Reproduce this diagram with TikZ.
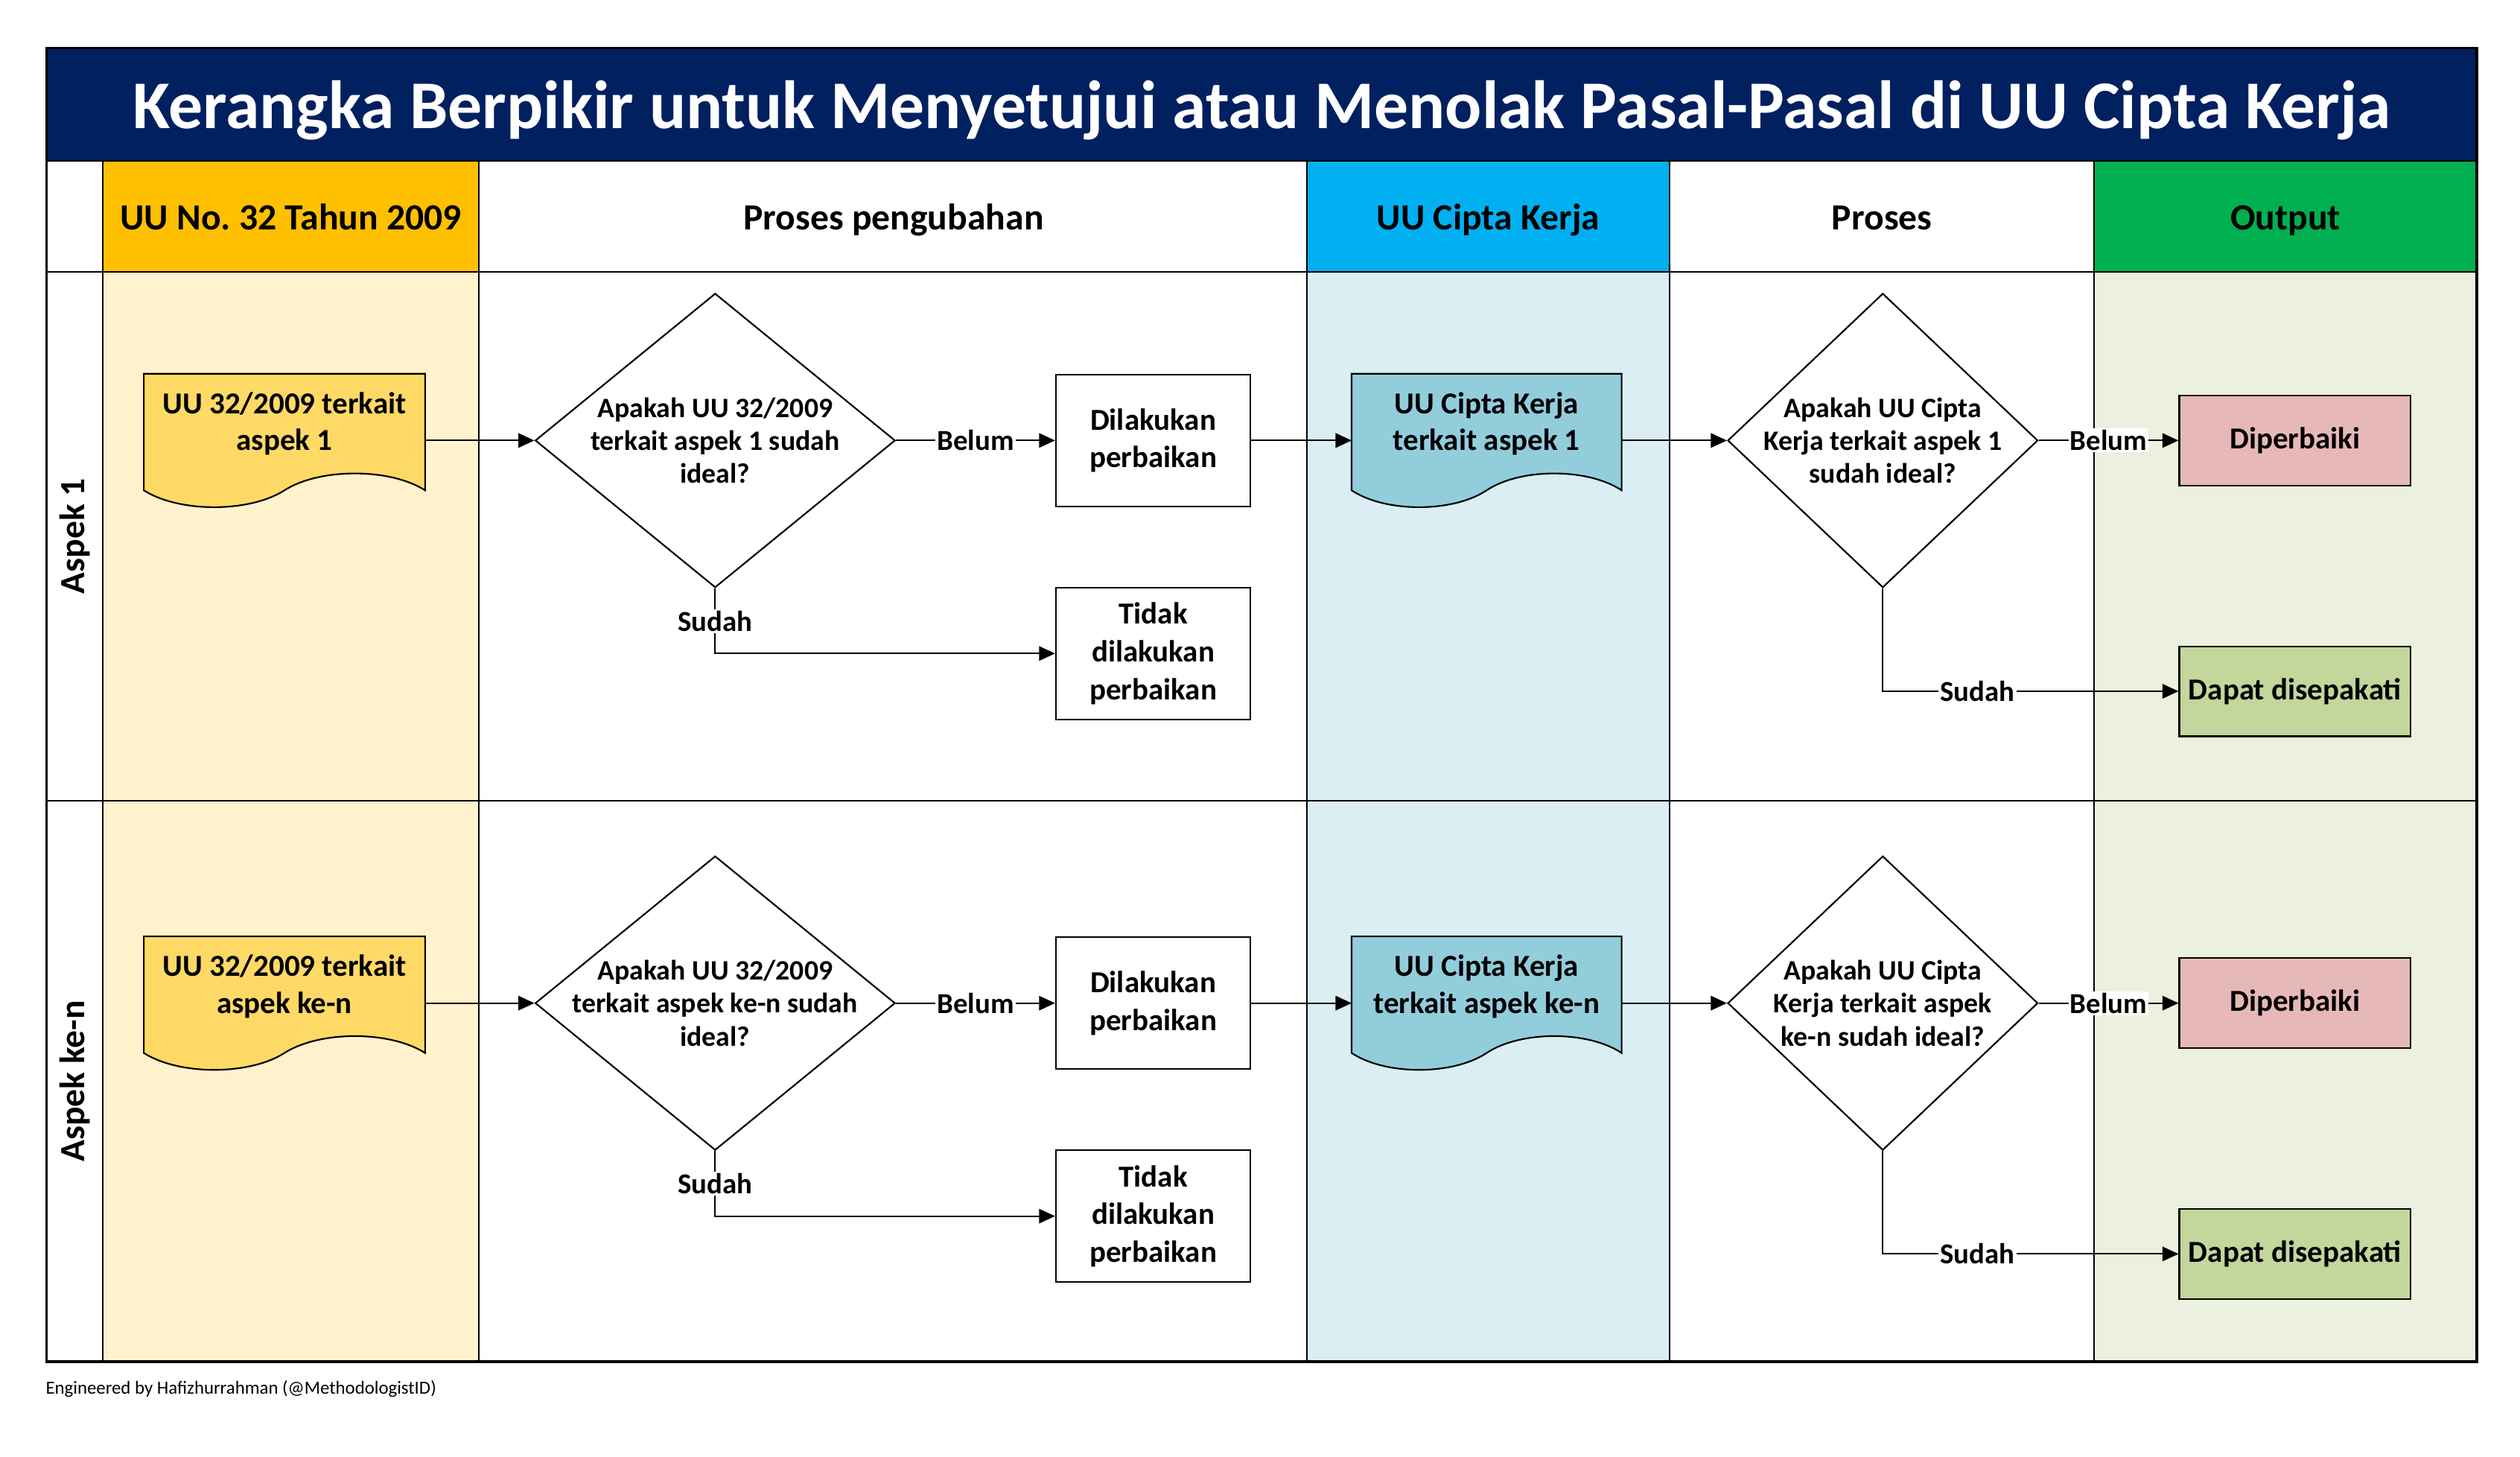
\documentclass[tikz,border=0pt]{standalone}
\usepackage{fontspec}
\setmainfont{Carlito}
\usetikzlibrary{shapes.geometric,arrows.meta,calc}

\definecolor{titlenavy}{HTML}{002060}
\definecolor{uuhead}{HTML}{FFC000}
\definecolor{uulane}{HTML}{FFF2CC}
\definecolor{uudoc}{HTML}{FFD966}
\definecolor{ckhead}{HTML}{00B0F0}
\definecolor{cklane}{HTML}{DAEEF3}
\definecolor{ckdoc}{HTML}{92CDDC}
\definecolor{outhead}{HTML}{00B050}
\definecolor{outlane}{HTML}{EBF1DE}
\definecolor{fixfill}{HTML}{E6B9B8}
\definecolor{okfill}{HTML}{C3D69B}

\tikzset{every picture/.style={line width=1pt}}
\tikzset{
  titletext/.style={text=white, anchor=base, font=\fontsize{42.5}{50}\selectfont\bfseries},
  headtext/.style={anchor=base, font=\fontsize{23}{27}\selectfont\bfseries},
  lanetext/.style={rotate=90, font=\fontsize{22}{26}\selectfont\bfseries},
  docshape/.style={minimum height=82pt, inner sep=0pt},
  doctext/.style={align=center, inner sep=0pt, font=\fontsize{19}{23}\selectfont\bfseries},
  procbox/.style={draw, fill=white, minimum width=121pt, minimum height=82pt, inner sep=0pt,
    align=center, font=\fontsize{19}{23.5}\selectfont\bfseries},
  outbox/.style={draw, minimum width=144pt, minimum height=56pt, inner sep=0pt,
    align=center, font=\fontsize{19}{23}\selectfont\bfseries},
  decision/.style={diamond, draw, fill=white, minimum height=183pt, inner sep=0pt},
  decisiontext/.style={align=center, inner sep=0pt, font=\fontsize{17.5}{20.5}\selectfont\bfseries},
  flow/.style={-{Triangle[length=10pt,width=9pt]}, line width=0.9pt},
  answer/.style={fill=white, inner sep=1pt, font=\fontsize{18}{21}\selectfont\bfseries},
}

% wavy document outline round an empty node
\newcommand{\docoutline}[2]{%
  \draw[fill=#2] (#1.north west) -- (#1.north east) -- ($(#1.south east)+(0,-10.5)$)
    .. controls ($(#1.south west)!0.875!(#1.south east)+(0,-24.5)$) and ($(#1.south west)!0.625!(#1.south east)+(0,-24.5)$) .. ($(#1.south west)!0.5!(#1.south east)+(0,-10.5)$)
    .. controls ($(#1.south west)!0.375!(#1.south east)+(0,3.5)$) and ($(#1.south west)!0.125!(#1.south east)+(0,3.5)$) .. ($(#1.south west)+(0,-10.5)$) -- cycle ;}

\begin{document}
\frenchspacing
\begin{tikzpicture}[x=1pt,y=1pt,yscale=-1,xscale=1]
	\useasboundingbox (0,0) rectangle (1568,906.3);

	%Shape: Rectangle (title band)
	\fill[titlenavy] (29,30) rectangle (1541,100);
	%Shape: Rectangle (header cells)
	\fill[uuhead] (64,100) rectangle (298,169);
	\fill[ckhead] (813,100) rectangle (1039,169);
	\fill[outhead] (1303,100) rectangle (1541,169);
	%Shape: Rectangle (lanes)
	\fill[uulane] (64,169) rectangle (298,847);
	\fill[cklane] (813,169) rectangle (1039,847);
	\fill[outlane] (1303,169) rectangle (1541,847);

	%Straight Lines
	\draw (29,100) -- (1541,100) ;
	\draw (29,169) -- (1541,169) ;
	\draw (29,498) -- (1541,498) ;
	\draw (64,100) -- (64,847) ;
	\draw (298,100) -- (298,847) ;
	\draw (813,100) -- (813,847) ;
	\draw (1039,100) -- (1039,847) ;
	\draw (1303,100) -- (1303,847) ;
	%Shape: Rectangle (frame)
	\draw[line width=1.6pt] (29,30) rectangle (1541,847) ;

	% Text Node
	\node[titletext] (title) at (785,80) {Kerangka Berpikir untuk Menyetujui atau Menolak Pasal-Pasal di UU Cipta Kerja};
	\node[headtext] (head1) at (181,143) {UU No. 32 Tahun 2009};
	\node[headtext] (head2) at (556,143) {Proses pengubahan};
	\node[headtext] (head3) at (926,143) {UU Cipta Kerja};
	\node[headtext] (head4) at (1171,143) {Proses};
	\node[headtext] (head5) at (1422,143) {Output};
	\node[lanetext] (lane1) at (46.5,333.5) {Aspek 1};
	\node[lanetext] (lane2) at (46.5,672.5) {Aspek ke-n};

	%Shape: Document
	\node[docshape, minimum width=174pt] (uu1) at (177,274) {};
	\docoutline{uu1}{uudoc}
	\node[doctext] (uu1t) at ($(uu1)+(0,-10.5)$) {UU 32/2009 terkait\\aspek 1};
	%Shape: Diamond
	\node[decision, minimum width=224pt] (q1) at (445,274) {};
	\node[decisiontext] (q1t) at (q1) {Apakah UU 32/2009\\terkait aspek 1 sudah\\ideal?};
	%Shape: Rectangle
	\node[procbox] (act1) at (717.5,274) {Dilakukan\\perbaikan};
	\node[procbox] (no1) at (717.5,406.5) {Tidak\\dilakukan\\perbaikan};
	%Shape: Document
	\node[docshape, minimum width=167pt] (ck1) at (925,274) {};
	\docoutline{ck1}{ckdoc}
	\node[doctext] (ck1t) at ($(ck1)+(0,-10.5)$) {UU Cipta Kerja\\terkait aspek 1};
	%Shape: Diamond
	\node[decision, minimum width=193pt] (q2) at (1171.5,274) {};
	\node[decisiontext] (q2t) at (q2) {Apakah UU Cipta\\Kerja terkait aspek 1\\sudah ideal?};
	%Shape: Rectangle
	\node[outbox, fill=fixfill] (fix1) at (1428,274) {Diperbaiki};
	\node[outbox, fill=okfill] (ok1) at (1428,430) {Dapat disepakati};

	%Shape: Document
	\node[docshape, minimum width=174pt] (uu2) at (177,624) {};
	\docoutline{uu2}{uudoc}
	\node[doctext] (uu2t) at ($(uu2)+(0,-10.5)$) {UU 32/2009 terkait\\aspek ke-n};
	%Shape: Diamond
	\node[decision, minimum width=224pt] (q3) at (445,624) {};
	\node[decisiontext] (q3t) at (q3) {Apakah UU 32/2009\\terkait aspek ke-n sudah\\ideal?};
	%Shape: Rectangle
	\node[procbox] (act2) at (717.5,624) {Dilakukan\\perbaikan};
	\node[procbox] (no2) at (717.5,756.5) {Tidak\\dilakukan\\perbaikan};
	%Shape: Document
	\node[docshape, minimum width=167pt] (ck2) at (925,624) {};
	\docoutline{ck2}{ckdoc}
	\node[doctext] (ck2t) at ($(ck2)+(0,-10.5)$) {UU Cipta Kerja\\terkait aspek ke-n};
	%Shape: Diamond
	\node[decision, minimum width=193pt] (q4) at (1171.5,624) {};
	\node[decisiontext] (q4t) at (q4) {Apakah UU Cipta\\Kerja terkait aspek\\ke-n sudah ideal?};
	%Shape: Rectangle
	\node[outbox, fill=fixfill] (fix2) at (1428,624) {Diperbaiki};
	\node[outbox, fill=okfill] (ok2) at (1428,780) {Dapat disepakati};

	%Connectors
	\draw[flow] (uu1) -- (q1) ;
	\draw[flow] (q1) -- node[answer] (b1) {Belum} (act1) ;
	\draw[flow] (q1.south) |- node[answer, pos=0.25] (s1) {Sudah} (no1) ;
	\draw[flow] (act1) -- (ck1) ;
	\draw[flow] (ck1) -- (q2) ;
	\draw[flow] (q2) -- node[answer] (b2) {Belum} (fix1) ;
	\draw[flow] (q2.south) |- node[answer, pos=0.66] (s2) {Sudah} (ok1) ;

	\draw[flow] (uu2) -- (q3) ;
	\draw[flow] (q3) -- node[answer] (b3) {Belum} (act2) ;
	\draw[flow] (q3.south) |- node[answer, pos=0.25] (s3) {Sudah} (no2) ;
	\draw[flow] (act2) -- (ck2) ;
	\draw[flow] (ck2) -- (q4) ;
	\draw[flow] (q4) -- node[answer] (b4) {Belum} (fix2) ;
	\draw[flow] (q4.south) |- node[answer, pos=0.66] (s4) {Sudah} (ok2) ;

	% Text Node
	\node[anchor=west, inner sep=0pt, font=\fontsize{11.5}{14}\selectfont] (credit) at (28,864) {Engineered by Hafizhurrahman (@MethodologistID)};

\end{tikzpicture}
\end{document}
